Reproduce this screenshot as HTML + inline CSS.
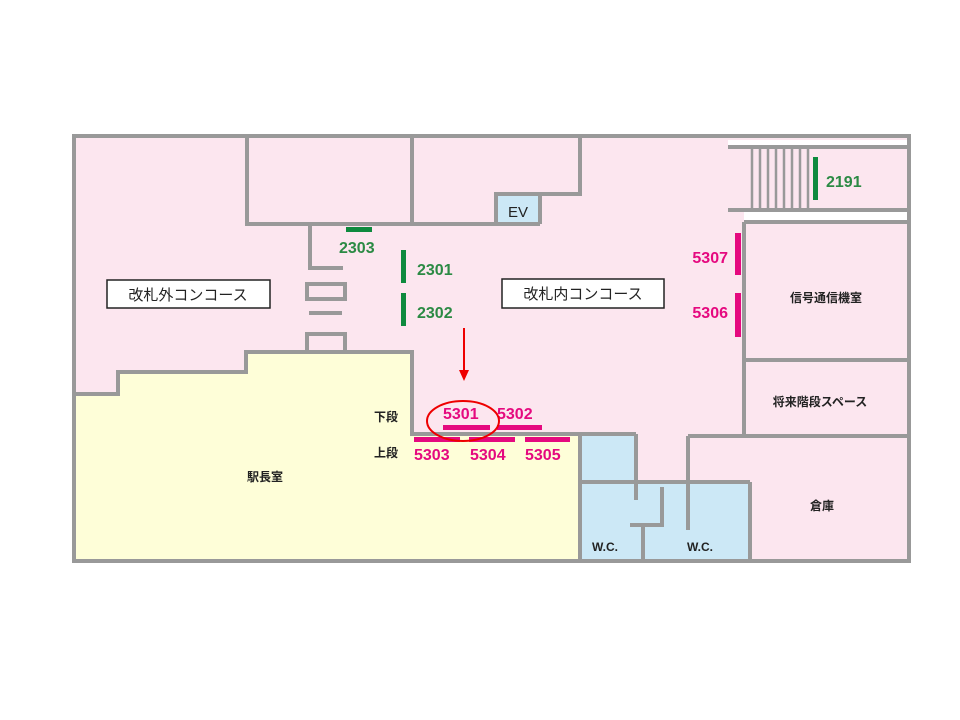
<!DOCTYPE html>
<html><head><meta charset="utf-8"><style>body{margin:0;background:#fff}svg{display:block}
text{font-family:"Liberation Sans","Noto Sans CJK JP",sans-serif}</style></head><body>
<svg width="960" height="720" viewBox="0 0 960 720" xmlns="http://www.w3.org/2000/svg">
<rect x="74" y="136" width="835" height="425" fill="#fce6ef"/>
<polygon points="74,394 118,394 118,372 246,372 246,352 412,352 412,434 580,434 580,560 74,560" fill="#fefed8"/>
<rect x="580" y="434" width="56" height="48" fill="#cce8f6"/>
<rect x="580" y="482" width="170" height="78" fill="#cce8f6"/>
<rect x="496" y="194" width="44" height="30" fill="#cce8f6"/>
<rect x="728" y="140" width="181" height="6" fill="#fff"/>
<rect x="744" y="212" width="165" height="8" fill="#fff"/>
<g stroke="#999" stroke-width="4" fill="none">
<rect x="74" y="136" width="835" height="425"/>
<polyline points="74,394 118,394 118,372 246,372 246,352 412,352 412,434 636,434"/>
<polyline points="247,136 247,224 540,224"/>
<polyline points="412,136 412,224"/>
<polyline points="580,136 580,194 496,194 496,224"/>
<line x1="540" y1="194" x2="540" y2="224"/>
<line x1="728" y1="147" x2="909" y2="147"/>
<line x1="728" y1="210" x2="909" y2="210"/>
<line x1="744" y1="222" x2="909" y2="222"/>
<line x1="744" y1="222" x2="744" y2="360"/>
<line x1="744" y1="360" x2="909" y2="360"/>
<line x1="744" y1="360" x2="744" y2="436"/>
<line x1="688" y1="436" x2="909" y2="436"/>
<line x1="688" y1="436" x2="688" y2="530"/>
<line x1="580" y1="434" x2="580" y2="560"/>
<line x1="636" y1="434" x2="636" y2="500"/>
<line x1="580" y1="482" x2="750" y2="482"/>
<line x1="750" y1="482" x2="750" y2="560"/>
<polyline points="662,487 662,525 630,525"/>
<line x1="643" y1="525" x2="643" y2="560"/>
<polyline points="310,224 310,268 343,268"/>
<rect x="307" y="284" width="38" height="15"/>
<line x1="309" y1="313" x2="342" y2="313"/>
<rect x="307" y="334" width="38" height="18"/>
</g>
<g stroke="#999" stroke-width="2.5">
<line x1="752" y1="147" x2="752" y2="210"/><line x1="760" y1="147" x2="760" y2="210"/>
<line x1="768" y1="147" x2="768" y2="210"/><line x1="776" y1="147" x2="776" y2="210"/>
<line x1="784" y1="147" x2="784" y2="210"/><line x1="792" y1="147" x2="792" y2="210"/>
<line x1="800" y1="147" x2="800" y2="210"/><line x1="808" y1="147" x2="808" y2="210"/>
</g>
<g fill="#0e8a3e">
<rect x="813" y="157" width="5" height="43"/>
<rect x="346" y="227" width="26" height="5"/>
<rect x="401" y="250" width="5" height="33"/>
<rect x="401" y="293" width="5" height="33"/>
</g>
<g fill="#2b8a44" font-weight="bold" font-size="16">
<text x="826" y="187">2191</text>
<text x="339" y="253">2303</text>
<text x="417" y="275">2301</text>
<text x="417" y="318">2302</text>
</g>
<g fill="#e5097f">
<rect x="735" y="233" width="6" height="42"/>
<rect x="735" y="293" width="6" height="44"/>
<rect x="443" y="425" width="47" height="5"/>
<rect x="497" y="425" width="45" height="5"/>
<rect x="414" y="437" width="46" height="5"/>
<rect x="469" y="437" width="46" height="5"/>
<rect x="525" y="437" width="45" height="5"/>
</g>
<g fill="#e5097f" font-weight="bold" font-size="16">
<text x="728" y="263" text-anchor="end">5307</text>
<text x="728" y="318" text-anchor="end">5306</text>
<text x="443" y="419">5301</text>
<text x="497" y="419">5302</text>
<text x="414" y="460">5303</text>
<text x="470" y="460">5304</text>
<text x="525" y="460">5305</text>
</g>
<rect x="107" y="280" width="163" height="28" fill="#fff" stroke="#222" stroke-width="1.5"/>
<text x="188" y="300" text-anchor="middle" font-size="15" fill="#222">改札外コンコース</text>
<rect x="502" y="279" width="162" height="29" fill="#fff" stroke="#222" stroke-width="1.5"/>
<text x="583" y="299" text-anchor="middle" font-size="15" fill="#222">改札内コンコース</text>
<text x="518" y="217" text-anchor="middle" font-size="15" fill="#222">EV</text>
<g font-size="12" fill="#222" font-weight="bold">
<text x="826" y="302" text-anchor="middle">信号通信機室</text>
<text x="820" y="406" text-anchor="middle">将来階段スペース</text>
<text x="822" y="510" text-anchor="middle">倉庫</text>
<text x="265" y="481" text-anchor="middle">駅長室</text>
<text x="386" y="421" text-anchor="middle">下段</text>
<text x="386" y="457" text-anchor="middle">上段</text>
<text x="605" y="551" text-anchor="middle">W.C.</text>
<text x="700" y="551" text-anchor="middle">W.C.</text>
</g>
<line x1="464" y1="328" x2="464" y2="372" stroke="#e00" stroke-width="2"/>
<polygon points="459,370 464,381 469,370" fill="#e00"/>
<ellipse cx="463" cy="421" rx="36" ry="20" fill="none" stroke="#e00" stroke-width="2"/>
</svg>
</body></html>
